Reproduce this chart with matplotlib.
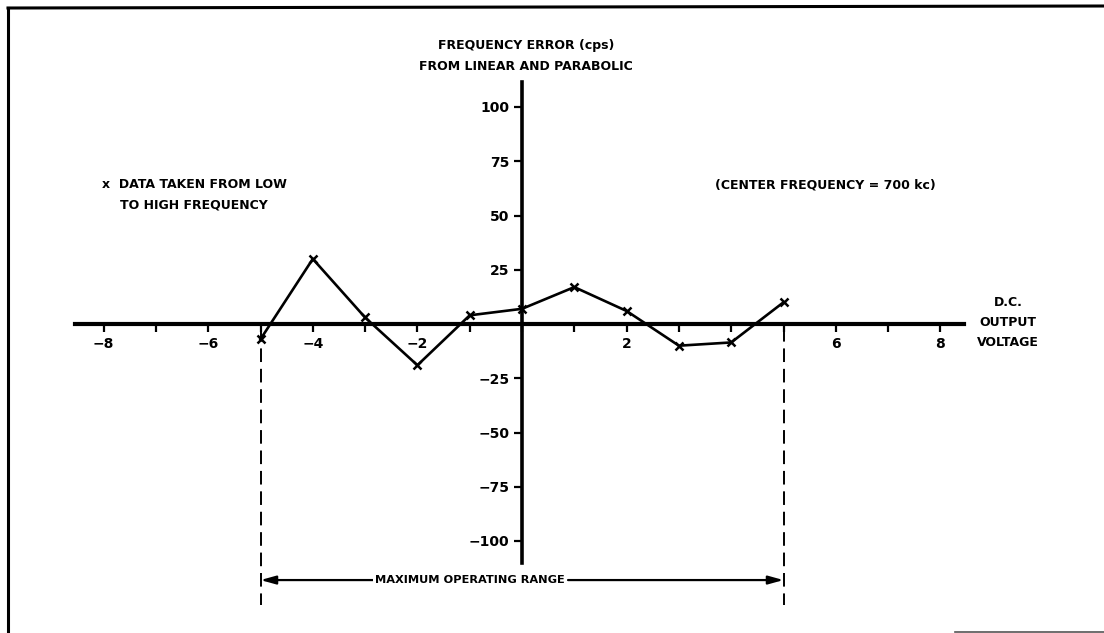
import matplotlib
matplotlib.use("Agg")
import matplotlib.pyplot as plt
from matplotlib.lines import Line2D

# ---- data ----
voltage = [-5, -4, -3, -2, -1, 0, 1, 2, 3, 4, 5]
freq_error = [-7, 30, 3, -19, 4, 7, 17, 6, -10, -8.5, 10]
x_ticks = list(range(-8, 9))
x_tick_labels = ["\u22128", "", "\u22126", "", "\u22124", "", "\u22122", "", "", "", "2", "", "", "", "6", "", "8"]
y_ticks = [-100, -75, -50, -25, 25, 50, 75, 100]
y_tick_labels = ["\u2212100", "\u221275", "\u221250", "\u221225", "25", "50", "75", "100"]
range_limits = [-5, 5]

W, H = 1104, 633
plt.rcParams['font.family'] = ['DejaVu Sans']
fig = plt.figure(figsize=(W / 100, H / 100), dpi=100)
ax = fig.add_axes([0, 0, 1, 1])
ax.set_facecolor('none')

# pixel mapping: x px = 522 + 52.3*x ; y px(from top) = 324 - 2.17*y
ax.set_xlim(-522 / 52.3, (W - 522) / 52.3)
ax.set_ylim(-(H - 324) / 2.17, 324 / 2.17)

for s in ['top', 'right']:
    ax.spines[s].set_visible(False)
ax.spines['bottom'].set_position(('data', 0))
ax.spines['left'].set_position(('data', 0))
ax.spines['bottom'].set_bounds(-8.55, 8.45)
ax.spines['left'].set_bounds(-110, 111.5)
ax.spines['bottom'].set_linewidth(3.0)
ax.spines['left'].set_linewidth(2.6)

fs = 9
tfs = 10
ax.set_xticks(x_ticks)
ax.set_xticklabels(x_tick_labels, fontsize=tfs, fontweight='bold')
ax.set_yticks(y_ticks)
ax.set_yticklabels(y_tick_labels, fontsize=tfs, fontweight='bold')
ax.tick_params(axis='x', direction='out', length=6, width=1.6, pad=3)
ax.tick_params(axis='y', direction='out', length=6, width=1.6, pad=3)

# data
ax.plot(voltage, freq_error, color='black', lw=1.9, marker='x', ms=5.5, mew=1.8, zorder=3)

# dashed range limits
for xv in range_limits:
    ax.plot([xv, xv], [-2, -129.5], color='black', lw=1.4, ls=(0, (7, 3.5)))

# operating range arrows
ax.annotate('', xy=(range_limits[0], -118), xytext=(-2.85, -118),
            arrowprops=dict(arrowstyle='-|>,head_length=0.9,head_width=0.25', lw=1.6, color='black',
                            shrinkA=0, shrinkB=0))
ax.annotate('', xy=(range_limits[1], -118), xytext=(0.88, -118),
            arrowprops=dict(arrowstyle='-|>,head_length=0.9,head_width=0.25', lw=1.6, color='black',
                            shrinkA=0, shrinkB=0))
ax.text(-0.99, -118, 'MAXIMUM OPERATING RANGE', ha='center', va='center', fontsize=8.2,
        fontweight='bold', zorder=5,
        bbox=dict(facecolor='white', edgecolor='none', pad=1.5))


def ftext(px, py, s, ha='left', **kw):
    fig.text(px / W, 1 - py / H, s, ha=ha, va='center', fontsize=fs, fontweight='bold', **kw)


ftext(526, 45, 'FREQUENCY ERROR (cps)', ha='center')
ftext(526, 67, 'FROM LINEAR AND PARABOLIC', ha='center')
ftext(102, 185, 'x  DATA TAKEN FROM LOW')
ftext(120, 205, 'TO HIGH FREQUENCY')
ftext(825, 185, '(CENTER FREQUENCY = 700 kc)', ha='center')
ftext(1008, 303, 'D.C.', ha='center')
ftext(1008, 323, 'OUTPUT', ha='center')
ftext(1008, 343, 'VOLTAGE', ha='center')

# page frame
fig.add_artist(Line2D([8 / W, 8 / W], [0, 1 - 8 / H], transform=fig.transFigure, color='black', lw=2.2))
fig.add_artist(Line2D([8 / W, 1], [1 - 8 / H, 1 - 6 / H], transform=fig.transFigure, color='black', lw=2.2))
fig.add_artist(Line2D([955 / W, 1], [1.5 / H, 1.5 / H], transform=fig.transFigure, color='#555555', lw=1.2))

fig.savefig('out.png', dpi=100)
